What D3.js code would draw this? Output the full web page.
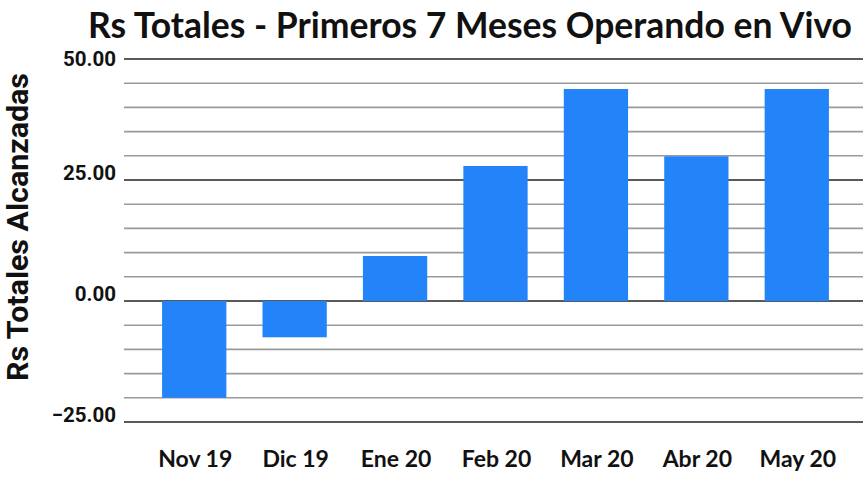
<!DOCTYPE html>
<html>
<head>
<meta charset="utf-8">
<script src="https://cdn.jsdelivr.net/npm/d3@7"></script>
<style>
  html, body { margin: 0; padding: 0; background: #fff; }
  svg { display: block; }
</style>
</head>
<body>
<svg id="chart" width="865" height="477"></svg>
<script>
// Monthly totals (Rs) for the first seven live months
const months = ["Nov 19", "Dic 19", "Ene 20", "Feb 20", "Mar 20", "Abr 20", "May 20"];
const totals = [-20.0, -7.5, 9.3, 27.9, 43.8, 29.9, 43.8];
const majorTicks = [-25, 0, 25, 50];
const minorTicks = [-20, -15, -10, -5, 5, 10, 15, 20, 30, 35, 40, 45];

const svg = d3.select("#chart");

const x = d3.scaleBand()
  .domain(months)
  .range([144, 847])
  .paddingInner(0.36)
  .paddingOuter(0.18);

const y = d3.scaleLinear()
  .domain([-25, 50])
  .range([422, 59]);

const gridLeft = 124, gridRight = 863;

// Minor gridlines
svg.append("g")
  .selectAll("line")
  .data(minorTicks)
  .join("line")
  .attr("x1", gridLeft).attr("x2", gridRight)
  .attr("y1", d => y(d)).attr("y2", d => y(d))
  .attr("stroke", "#9a9a9a")
  .attr("stroke-width", 1.6);

// Major gridlines
svg.append("g")
  .selectAll("line")
  .data(majorTicks)
  .join("line")
  .attr("x1", gridLeft).attr("x2", gridRight)
  .attr("y1", d => y(d)).attr("y2", d => y(d))
  .attr("stroke", "#5a5a5a")
  .attr("stroke-width", 2.2);

// Bars
svg.append("g")
  .selectAll("rect")
  .data(months.map((m, i) => ({ m, v: totals[i] })))
  .join("rect")
  .attr("x", d => x(d.m))
  .attr("width", x.bandwidth())
  .attr("y", d => y(Math.max(0, d.v)))
  .attr("height", d => Math.abs(y(d.v) - y(0)))
  .attr("fill", "#2384f9");

// Y tick labels
const fmt = d3.format(".2f");
svg.append("g")
  .selectAll("text")
  .data(majorTicks)
  .join("text")
  .attr("x", 116)
  .attr("y", d => Math.max(y(d), y(50) + 7))
  .attr("text-anchor", "end")
  .attr("font-family", "Roboto, 'Liberation Sans', Arial, sans-serif")
  .attr("font-weight", "bold")
  .attr("font-size", 20.5)
  .attr("fill", "#111")
  .text(d => fmt(d));

// X category labels
svg.append("g")
  .selectAll("text")
  .data(months)
  .join("text")
  .attr("x", d => x(d) + x.bandwidth() / 2 + 1)
  .attr("y", 467)
  .attr("text-anchor", "middle")
  .attr("font-family", "Lato, 'Open Sans', sans-serif")
  .attr("font-weight", "bold")
  .attr("font-size", 23)
  .attr("fill", "#111")
  .text(d => d);

// Y axis title
svg.append("text")
  .attr("transform", "translate(28,227) rotate(-90)")
  .attr("text-anchor", "middle")
  .attr("font-family", "Roboto, 'Liberation Sans', Arial, sans-serif")
  .attr("font-weight", "bold")
  .attr("font-size", 29.5)
  .attr("fill", "#111")
  .attr("textLength", 308)
  .attr("lengthAdjust", "spacingAndGlyphs")
  .text("Rs Totales Alcanzadas");

// Chart title
svg.append("text")
  .attr("x", 470)
  .attr("y", 38)
  .attr("text-anchor", "middle")
  .attr("font-family", "Lato, 'Open Sans', sans-serif")
  .attr("font-weight", "bold")
  .attr("font-size", 36)
  .attr("fill", "#111")
  .attr("textLength", 764)
  .attr("lengthAdjust", "spacingAndGlyphs")
  .text("Rs Totales - Primeros 7 Meses Operando en Vivo");
</script>
</body>
</html>
